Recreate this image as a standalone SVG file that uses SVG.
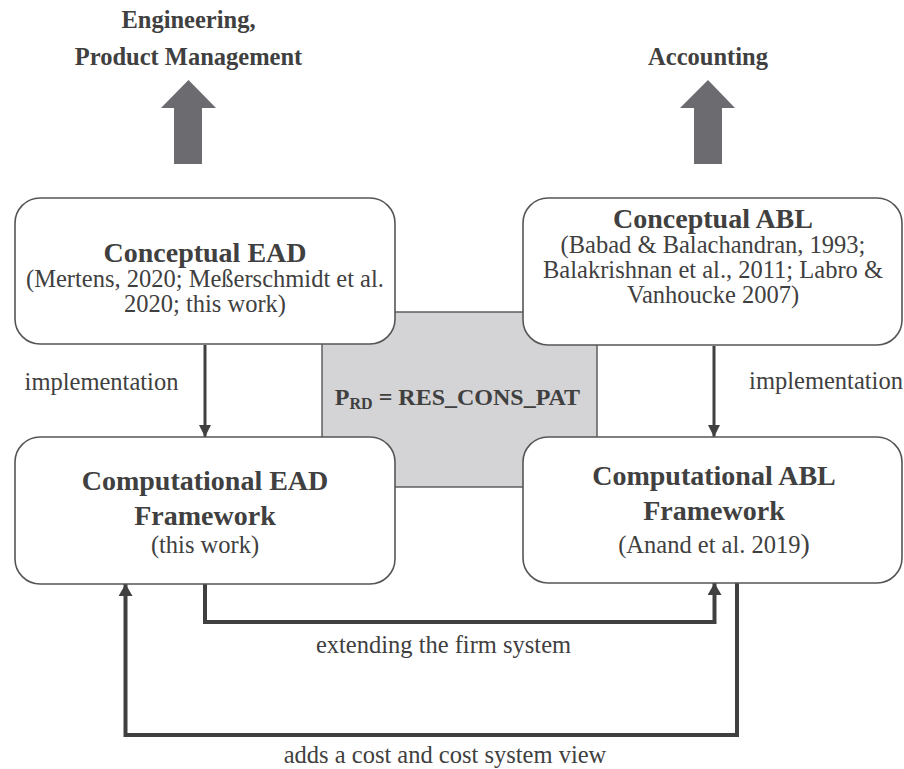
<svg xmlns="http://www.w3.org/2000/svg" width="904" height="769" viewBox="0 0 904 769" font-family="'Liberation Serif', serif">
  <defs>
    <style>
      text { fill: #404040; text-anchor: middle; }
      .box { fill: #ffffff; stroke: #555555; stroke-width: 1.6; }
      .band { fill: #d4d4d6; stroke: #555555; stroke-width: 1.4; }
      .up { fill: #6b6b70; }
      .conn { fill: none; stroke: #404040; stroke-linejoin: miter; }
      .thin { stroke-width: 3; }
      .thick { stroke-width: 4; }
    </style>
    <marker id="tip" viewBox="0 0 12 12" refX="12" refY="6" markerUnits="userSpaceOnUse" markerWidth="12" markerHeight="12" orient="auto">
      <path d="M0,0 L12,6 L0,12 Z" fill="#404040"/>
    </marker>
    <marker id="tipw" viewBox="0 0 12 14" refX="12" refY="7" markerUnits="userSpaceOnUse" markerWidth="12" markerHeight="14" orient="auto">
      <path d="M0,0 L12,7 L0,14 Z" fill="#404040"/>
    </marker>
  </defs>

  <!-- audience labels with block arrows -->
  <g id="audience-engineering">
    <text x="188.5" y="28" font-family="Liberation Serif" font-size="24.5" font-weight="bold">Engineering,</text>
    <text x="188.5" y="65" font-family="Liberation Serif" font-size="24.5" font-weight="bold">Product Management</text>
    <path class="up" d="M188.5,80 L216,108 L202,108 L202,164 L174,164 L174,108 L161,108 Z"/>
  </g>
  <g id="audience-accounting">
    <text x="708" y="65" font-family="Liberation Serif" font-size="24.5" font-weight="bold">Accounting</text>
    <path class="up" d="M708,80 L735,108 L722,108 L722,164 L694,164 L694,108 L680,108 Z"/>
  </g>

  <!-- shared resource consumption pattern -->
  <g id="shared-pattern">
    <rect class="band" x="322" y="312" width="275" height="175"/>
  </g>

  <!-- connectors -->
  <g id="connectors">
    <path class="conn thin" d="M205,345 L205,437" marker-end="url(#tip)"/>
    <path class="conn thin" d="M714,346 L714,437" marker-end="url(#tip)"/>
    <path class="conn thick" d="M205,584 L205,622 L714.5,622 L714.5,583" marker-end="url(#tipw)"/>
    <path class="conn thick" d="M737,583 L737,735 L125.5,735 L125.5,584" marker-end="url(#tipw)"/>
  </g>

  <g id="conceptual-ead">
    <rect class="box" x="15" y="198" width="380" height="146" rx="25" ry="25"/>
    <text x="205" y="262" font-family="Liberation Serif" font-size="28" font-weight="bold">Conceptual EAD</text>
    <text x="205" y="287" font-family="Liberation Serif" font-size="24.5">(Mertens, 2020; Meßerschmidt et al.</text>
    <text x="205" y="312" font-family="Liberation Serif" font-size="24.5">2020; this work)</text>
  </g>

  <g id="conceptual-abl">
    <rect class="box" x="523" y="198" width="379" height="147" rx="25" ry="25"/>
    <text x="713" y="228" font-family="Liberation Serif" font-size="28" font-weight="bold">Conceptual ABL</text>
    <text x="713" y="253" font-family="Liberation Serif" font-size="24.5">(Babad &amp; Balachandran, 1993;</text>
    <text x="713" y="278" font-family="Liberation Serif" font-size="24.5">Balakrishnan et al., 2011; Labro &amp;</text>
    <text x="713" y="303" font-family="Liberation Serif" font-size="24.5">Vanhoucke 2007)</text>
  </g>

  <g id="computational-ead">
    <rect class="box" x="15" y="437" width="380" height="147" rx="25" ry="25"/>
    <text x="205" y="490" font-family="Liberation Serif" font-size="28" font-weight="bold">Computational EAD</text>
    <text x="205" y="525" font-family="Liberation Serif" font-size="28" font-weight="bold">Framework</text>
    <text x="205" y="553" font-family="Liberation Serif" font-size="24.5">(this work)</text>
  </g>

  <g id="computational-abl">
    <rect class="box" x="523" y="437" width="379" height="146" rx="25" ry="25"/>
    <text x="714" y="485" font-family="Liberation Serif" font-size="28" font-weight="bold">Computational ABL</text>
    <text x="714" y="520" font-family="Liberation Serif" font-size="28" font-weight="bold">Framework</text>
    <text x="714" y="553" font-family="Liberation Serif" font-size="24.5">(Anand et al. 2019<tspan font-size="28">)</tspan></text>
  </g>

  <!-- pattern formula drawn over the band -->
  <g id="pattern-label">
    <text x="457.5" y="405" font-family="Liberation Serif" font-size="24" font-weight="bold">P<tspan font-size="16" dy="4">RD</tspan><tspan dy="-4"> = RES_CONS_PAT</tspan></text>
  </g>

  <!-- connector labels -->
  <g id="labels">
    <text x="101.5" y="390" font-family="Liberation Serif" font-size="24.5">implementation</text>
    <text x="826" y="389" font-family="Liberation Serif" font-size="24.5">implementation</text>
    <text x="443.5" y="653" font-family="Liberation Serif" font-size="24.5">extending the firm system</text>
    <text x="445" y="763" font-family="Liberation Serif" font-size="24.5">adds a cost and cost system view</text>
  </g>
</svg>
